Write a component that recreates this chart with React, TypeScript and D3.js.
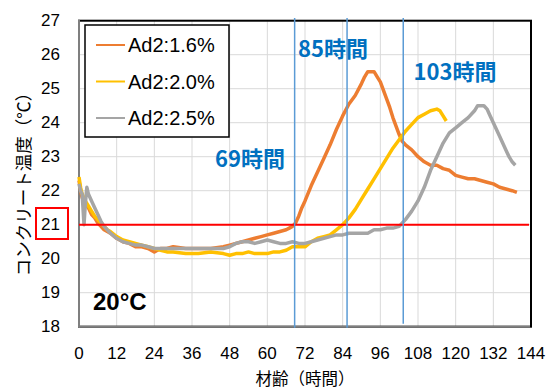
import React from "react";
import * as d3 from "d3";

const xTicks = [0, 12, 24, 36, 48, 60, 72, 84, 96, 108, 120, 132, 144];
const yTicks = [18, 19, 20, 21, 22, 23, 24, 25, 26, 27];

const seriesNames = ["Ad2:1.6%", "Ad2:2.0%", "Ad2:2.5%"];
const seriesColors = ["#ED7D31", "#FFC000", "#A5A5A5"];

const hours16 = [0,0.5,1,2,3,4,5,6,7,8,9,10,12,14,16,18,20,22,24,26,28,30,34,38,42,46,48,50,52,54,56,58,60,62,64,66,67,68,69,70,71,72,74,76,78,80,82,84,86,88,90,91,92,93,94,95,96,97,98,99,100,101,102,103,104,106,108,110,112,114,116,118,120,122,124,126,128,130,132,134,136,138,139.5];
const temps16 = [22.3,22.0,21.8,21.6,21.5,21.3,21.2,21.05,20.95,20.85,20.8,20.75,20.6,20.5,20.45,20.35,20.35,20.3,20.2,20.3,20.3,20.35,20.3,20.3,20.3,20.35,20.4,20.45,20.5,20.55,20.6,20.65,20.7,20.75,20.8,20.85,20.9,20.95,21.05,21.25,21.5,21.7,22.15,22.55,22.95,23.35,23.8,24.2,24.55,24.8,25.15,25.35,25.5,25.5,25.5,25.35,25.2,24.95,24.7,24.45,24.15,23.9,23.65,23.45,23.35,23.2,23.0,22.85,22.75,22.75,22.65,22.6,22.45,22.4,22.35,22.35,22.3,22.25,22.2,22.1,22.05,22.0,21.95];

const hours20 = [0,0.5,1,2,3,4,5,6,7,8,9,10,12,14,16,18,20,22,24,26,28,30,34,38,42,46,48,50,52,54,56,58,60,62,64,66,68,70,72,74,76,78,80,82,84,86,88,90,92,94,96,98,100,102,104,106,108,110,112,114,115,116,117];
const temps20 = [22.4,22.1,21.9,21.7,21.55,21.4,21.25,21.15,21.05,20.95,20.85,20.8,20.65,20.55,20.5,20.45,20.4,20.35,20.3,20.25,20.2,20.2,20.15,20.15,20.2,20.15,20.1,20.15,20.15,20.2,20.15,20.15,20.15,20.2,20.2,20.25,20.35,20.35,20.35,20.5,20.6,20.65,20.7,20.85,21.0,21.2,21.45,21.75,22.05,22.35,22.65,22.95,23.25,23.5,23.75,23.95,24.15,24.25,24.35,24.4,24.35,24.2,24.05];

const hours25 = [0,0.5,1,1.6,2,2.5,3,4,5,6,7,8,9,10,12,14,16,18,20,22,24,26,28,30,34,38,42,46,48,50,52,54,56,58,60,62,64,66,68,70,72,74,76,78,80,82,84,86,88,90,92,94,96,98,100,102,103,104,106,108,110,112,114,116,118,120,122,124,126,127,129,130,131,132,134,136,137,138,139];
const temps25 = [22.2,22.0,21.9,21.0,21.6,22.1,21.9,21.7,21.5,21.3,21.1,20.95,20.85,20.75,20.6,20.5,20.45,20.4,20.4,20.35,20.3,20.3,20.3,20.3,20.3,20.3,20.3,20.3,20.35,20.45,20.5,20.5,20.45,20.5,20.55,20.5,20.45,20.45,20.5,20.45,20.45,20.5,20.55,20.6,20.65,20.7,20.7,20.75,20.75,20.75,20.75,20.85,20.85,20.9,20.9,20.95,21.05,21.15,21.4,21.7,22.1,22.6,23.0,23.4,23.7,23.85,24.0,24.15,24.35,24.5,24.5,24.4,24.2,24.0,23.6,23.2,23.0,22.85,22.75];

const markerHours = [68.7, 85.4, 103.3];
const markerLabels = ["69時間", "85時間", "103時間"];
const thresholdTemp = 21;

const W = 549, H = 389;
const L = 79, R = 531, T = 20.7, B = 326.7;

export default function App() {
  const x = d3.scaleLinear().domain([0, 144]).range([L, R]);
  const y = d3.scaleLinear().domain([18, 27]).range([B, T]);
  const line = d3.line<[number, number]>().x(d => x(d[0])).y(d => y(d[1]));
  const series = [
    d3.zip(hours16, temps16) as [number, number][],
    d3.zip(hours20, temps20) as [number, number][],
    d3.zip(hours25, temps25) as [number, number][],
  ];
  const font = "'Liberation Sans', Arial, sans-serif";
  const cjk = "'Noto Sans CJK JP', sans-serif";
  const labelPos = [
    { x: 250, y: 157 },
    { x: 333, y: 47 },
    { x: 455, y: 70 },
  ];
  const lineEnds = [B + 1, B + 1, B - 3];
  return (
    <svg width={W} height={H} style={{ position: "absolute", left: 0, top: 0, background: "#fff" }}>
      <rect x={0} y={0} width={W} height={H} fill="#fff" />
      {xTicks.map(t => (
        <line key={"gx" + t} x1={x(t)} x2={x(t)} y1={T} y2={B} stroke="#D9D9D9" strokeWidth={1} />
      ))}
      {yTicks.map(t => (
        <line key={"gy" + t} x1={L} x2={R} y1={y(t)} y2={y(t)} stroke="#D9D9D9" strokeWidth={1} />
      ))}
      <rect x={L} y={T} width={R - L} height={B - T} fill="none" stroke="#000" strokeWidth={2} />
      <line x1={L} x2={L} y1={T - 1} y2={B + 1} stroke="#7F7F7F" strokeWidth={2} />
      <line x1={L} x2={R - 1} y1={B} y2={B} stroke="#7F7F7F" strokeWidth={2} />
      {series.map((s, i) => (
        <path key={"s" + i} d={line(s) || ""} fill="none" stroke={seriesColors[i]} strokeWidth={3.5} strokeLinejoin="round" />
      ))}
      <line x1={L} x2={R - 2} y1={y(thresholdTemp)} y2={y(thresholdTemp)} stroke="#FF0000" strokeWidth={2} />
      {markerHours.map((h, i) => (
        <line key={"m" + i} x1={x(h)} x2={x(h)} y1={18} y2={lineEnds[i]} stroke="#5B9BD5" strokeWidth={1.5} />
      ))}
      {markerLabels.map((t, i) => (
        <text key={"ml" + i} x={labelPos[i].x} y={labelPos[i].y} textAnchor="middle" dominantBaseline="central"
          fontFamily={cjk} fontWeight="bold" fontSize={22} fill="#0070C0">{t}</text>
      ))}
      {yTicks.map(t => (
        <text key={"ty" + t} x={60} y={y(t)} textAnchor="end" dominantBaseline="central" fontFamily={font} fontSize={17} fill="#000">{t}</text>
      ))}
      {xTicks.map(t => (
        <text key={"tx" + t} x={x(t)} y={353} textAnchor="middle" dominantBaseline="central" fontFamily={font} fontSize={17} fill="#000">{t}</text>
      ))}
      <rect x={36} y={208} width={32} height={31} fill="none" stroke="#FF0000" strokeWidth={2} />
      <text x={305} y={378} textAnchor="middle" dominantBaseline="central" fontFamily={cjk} fontSize={16.5} fill="#000">材齢（時間）</text>
      <text transform="translate(22,180) rotate(-90)" textAnchor="middle" dominantBaseline="central" fontFamily={cjk} fontSize={17.5} fill="#000">コンクリート温度（℃）</text>
      <text x={93} y={301} dominantBaseline="central" fontFamily={font} fontWeight="bold" fontSize={24} fill="#000">20°C</text>
      <rect x={85} y={25} width={144} height={112} fill="#fff" stroke="#000" strokeWidth={1.5} />
      {seriesNames.map((n, i) => (
        <g key={"lg" + i}>
          <line x1={96} x2={125} y1={45 + i * 36.5} y2={45 + i * 36.5} stroke={seriesColors[i]} strokeWidth={2} />
          <text x={128} y={45 + i * 36.5} dominantBaseline="central" fontFamily={font} fontSize={20} fill="#000">{n}</text>
        </g>
      ))}
    </svg>
  );
}
